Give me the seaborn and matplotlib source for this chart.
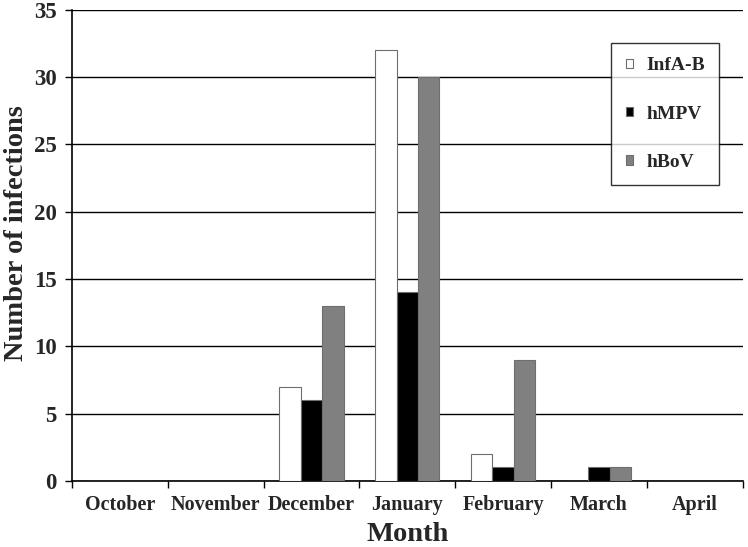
import matplotlib
matplotlib.use('Agg')
import matplotlib.pyplot as plt
import seaborn as sns
import pandas as pd
import numpy as np

# Datos
months = ['October', 'November', 'December', 'January', 'February', 'March', 'April']
infa_b = [0, 0, 7, 32, 2, 0, 0]
hmpv = [0, 0, 6, 14, 1, 1, 0]
hbov = [0, 0, 13, 30, 9, 1, 0]
series = ['InfA-B', 'hMPV', 'hBoV']
colors = ['#ffffff', '#000000', '#808080']

df = pd.DataFrame({
    'Month': months * 3,
    'value': infa_b + hmpv + hbov,
    'virus': [s for s in series for _ in months],
})

sns.set_style('white')
plt.rcParams['font.family'] = ['Liberation Serif', 'DejaVu Serif']
plt.rcParams['font.weight'] = 'bold'

fig, ax = plt.subplots(figsize=(7.48, 5.47), dpi=100)
fig.subplots_adjust(left=0.096, right=0.993, bottom=0.121, top=0.982)

sns.barplot(data=df, x='Month', y='value', hue='virus', order=months,
            hue_order=series, palette=colors, width=0.67, gap=0,
            edgecolor='#6e6e6e', linewidth=0.8, ax=ax, zorder=3)

ax.set_ylim(0, 35)
ax.set_xlim(-0.5, len(months) - 0.5)
ax.set_yticks(np.arange(0, 36, 5))
ax.yaxis.grid(True, color='black', linewidth=1.0, zorder=0)
ax.set_axisbelow(True)

# Marcas del eje x entre categorías (estilo Excel)
ax.set_xticks(np.arange(-0.5, len(months), 1), minor=True)
ax.tick_params(axis='x', which='major', length=0, pad=10, labelsize=14.5)
ax.tick_params(axis='x', which='minor', length=5, width=1, color='black',
               direction='out', bottom=True)
ax.tick_params(axis='y', length=5, width=1, color='black', direction='out',
               left=True, labelsize=16.5, pad=6)
for lab in ax.get_xticklabels() + ax.get_yticklabels():
    lab.set_fontweight('bold')

for side in ['top', 'right']:
    ax.spines[side].set_visible(False)
for side in ['left', 'bottom']:
    ax.spines[side].set_color('black')
    ax.spines[side].set_linewidth(1.2)

ax.set_xlabel('Month', fontsize=20.5, fontweight='bold', labelpad=5)
ax.set_ylabel('Number of infections', fontsize=20.5, fontweight='bold',
              labelpad=3, y=0.527)

leg = ax.legend(loc='upper right', bbox_to_anchor=(0.965, 0.930), borderaxespad=0,
                fontsize=14, frameon=True, fancybox=False, edgecolor='black',
                handlelength=0.4, handleheight=0.4, handletextpad=0.65,
                labelspacing=1.6, borderpad=0.75, title=None)
leg.get_frame().set_linewidth(1.0)
for t in leg.get_texts():
    t.set_fontweight('bold')

plt.savefig('out.png', dpi=100)
plt.close()
